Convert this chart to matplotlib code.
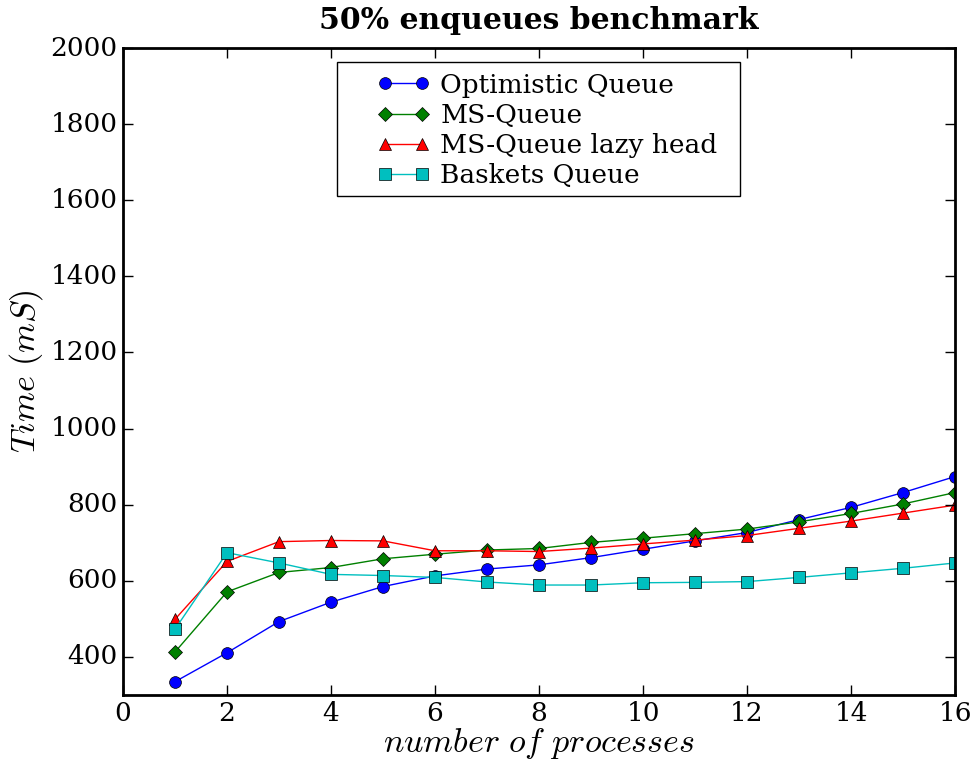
import numpy as np
import matplotlib
matplotlib.use('Agg')
import matplotlib.pyplot as plt
from matplotlib.patches import Rectangle

plt.style.use('classic')
plt.rcParams['font.family'] = 'serif'
plt.rcParams['font.serif'] = ['DejaVu Serif']
plt.rcParams['mathtext.fontset'] = 'cm'

procs = np.arange(1, 17)
optimistic = [335, 411, 493, 544, 585, 613, 631, 642, 661, 683, 705, 727, 761, 793, 832, 874]
ms_queue = [413, 571, 622, 635, 658, 670, 681, 685, 701, 712, 724, 736, 755, 777, 802, 832]
ms_lazy = [499, 651, 703, 706, 705, 679, 679, 677, 686, 697, 707, 719, 738, 757, 778, 799]
baskets = [473, 674, 647, 617, 614, 609, 597, 589, 589, 595, 596, 598, 609, 621, 633, 647]

fig = plt.figure(figsize=(9.77, 7.61), dpi=100)
ax = fig.add_axes([0.1259, 0.0867, 0.8516, 0.8502])

ax.plot(procs, optimistic, 'b-o', markersize=8.5, label='Optimistic Queue')
ax.plot(procs, ms_queue, 'g-D', markersize=7, label='MS-Queue')
ax.plot(procs, ms_lazy, 'r-^', markersize=8.5, label='MS-Queue lazy head')
ax.plot(procs, baskets, 'c-s', markersize=8.5, label='Baskets Queue')

ax.set_xlim(0, 16)
ax.set_ylim(300, 2000)
ax.set_yticks(np.arange(400, 2001, 200))
ax.set_xticks(np.arange(0, 17, 2))
ax.tick_params(labelsize=19, length=7, width=1)
for s in ax.spines.values():
    s.set_linewidth(2)

ax.set_title('50% enqueues benchmark', fontsize=21.5, fontweight='bold', y=1.018)
ax.set_xlabel(r'$number\ of\ processes$', fontsize=24.5, labelpad=0)
ax.set_ylabel(r'$Time\ (mS)$', fontsize=24.5, labelpad=4)

# legend without its own frame, the box is drawn separately (old-style wide padding)
ax.legend(loc='upper left', fontsize=19, numpoints=2, handlelength=2.0,
          handletextpad=0.4, borderpad=0, borderaxespad=0, labelspacing=0.2,
          frameon=False, bbox_to_anchor=(0.3053, 0.962))
ax.add_patch(Rectangle((0.2572, 0.7713), 0.4844, 0.2071, transform=ax.transAxes,
                       facecolor='white', edgecolor='black', linewidth=1, zorder=4))

fig.savefig('out.png', dpi=100)
